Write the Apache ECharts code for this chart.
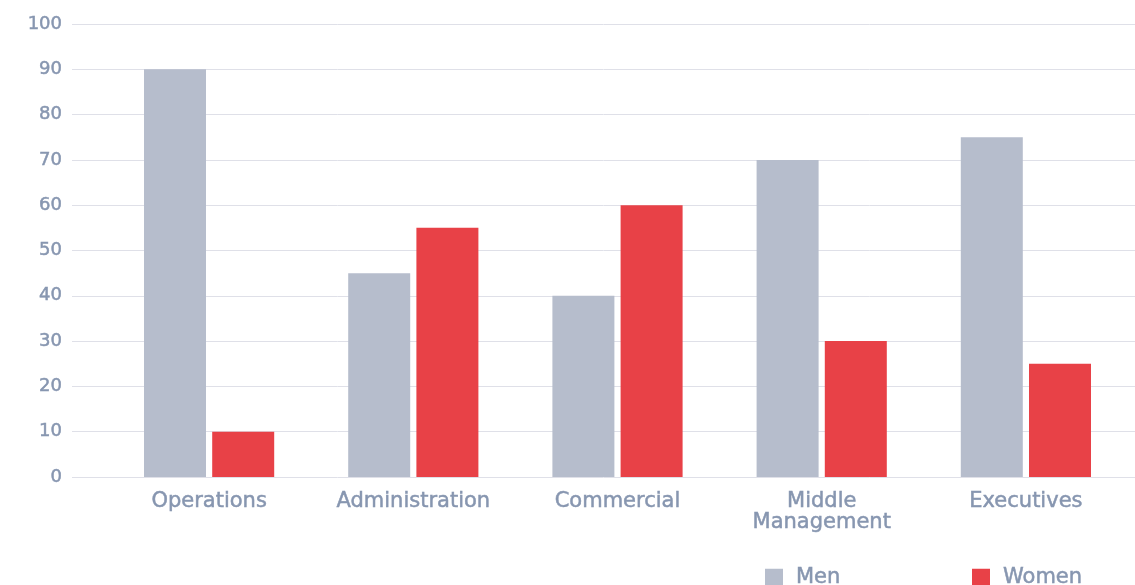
<!DOCTYPE html>
<html>
<head>
<meta charset="utf-8">
<script src="https://cdn.jsdelivr.net/npm/echarts@6/dist/echarts.min.js"></script>
<style>
  html, body { margin: 0; padding: 0; background: #ffffff; }
  #chart { width: 1135px; height: 585px; }
</style>
</head>
<body>
<div id="chart"></div>
<script>
// Share of men and women by job category (%)
const categories = ['Operations', 'Administration', 'Commercial', 'Middle\nManagement', 'Executives'];
const menValues = [90, 45, 40, 70, 75];
const womenValues = [10, 55, 60, 30, 25];
const yTicks = [0, 10, 20, 30, 40, 50, 60, 70, 80, 90, 100];

const labelColor = '#8796b0';
const gridColor = '#dfe0e8';
const menColor = '#b6bdcc';
const womenColor = '#e84147';
const fontFamily = '"DejaVu Sans", sans-serif';

// slightly heavier strokes for all text
const textWeight = { textBorderColor: labelColor, textBorderWidth: 0.5 };

const chart = echarts.init(document.getElementById('chart'));

const legendText = Object.assign({ color: labelColor, fontSize: 21, fontFamily: fontFamily, padding: [0, 0, 0, 8] }, textWeight);

chart.setOption({
  animation: false,
  grid: [
    // background grid carrying the value labels and horizontal lines
    { left: 72, right: 0, top: 24, bottom: 108 },
    // grid holding the bars
    { left: 107, right: 7, top: 24, bottom: 108 }
  ],
  xAxis: [
    { gridIndex: 0, type: 'value', show: false, min: 0, max: 1 },
    {
      gridIndex: 1,
      type: 'category',
      data: categories,
      axisLine: { show: false },
      axisTick: { show: false },
      axisLabel: Object.assign({
        color: labelColor,
        fontSize: 21,
        fontFamily: fontFamily,
        lineHeight: 21,
        margin: 14
      }, textWeight)
    }
  ],
  yAxis: [
    {
      gridIndex: 0,
      type: 'value',
      min: yTicks[0],
      max: yTicks[yTicks.length - 1],
      interval: yTicks[1] - yTicks[0],
      axisLine: { show: false },
      axisTick: { show: false },
      axisLabel: Object.assign({ color: labelColor, fontSize: 18, fontFamily: fontFamily, margin: 10 }, textWeight),
      splitLine: { lineStyle: { color: gridColor, width: 1 } }
    },
    {
      gridIndex: 1,
      type: 'value',
      min: yTicks[0],
      max: yTicks[yTicks.length - 1],
      show: false,
      splitLine: { show: false }
    }
  ],
  legend: [
    {
      data: ['Men'],
      left: 765,
      top: 567,
      padding: 0,
      itemWidth: 18,
      itemHeight: 18,
      icon: 'rect',
      textStyle: legendText
    },
    {
      data: ['Women'],
      left: 972,
      top: 567,
      padding: 0,
      itemWidth: 18,
      itemHeight: 18,
      icon: 'rect',
      textStyle: legendText
    }
  ],
  series: [
    {
      name: 'Men',
      type: 'bar',
      xAxisIndex: 1,
      yAxisIndex: 1,
      data: menValues,
      barWidth: 62,
      barGap: '10%',
      itemStyle: { color: menColor }
    },
    {
      name: 'Women',
      type: 'bar',
      xAxisIndex: 1,
      yAxisIndex: 1,
      data: womenValues,
      barWidth: 62,
      barGap: '10%',
      itemStyle: { color: womenColor }
    }
  ]
});
</script>
</body>
</html>
